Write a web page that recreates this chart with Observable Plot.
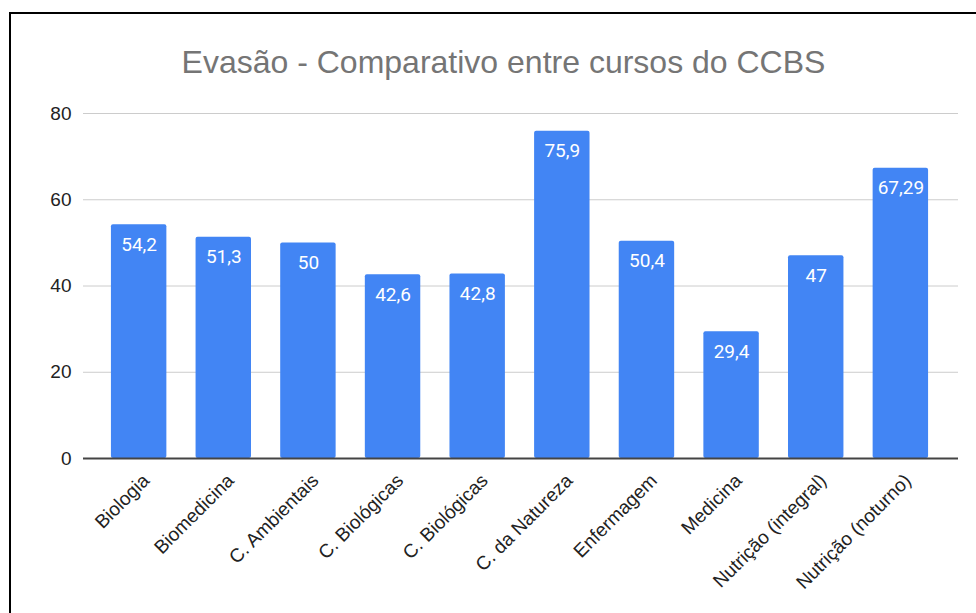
<!DOCTYPE html>
<html>
<head>
<meta charset="utf-8">
<script src="https://cdn.jsdelivr.net/npm/d3@7"></script>
<script src="https://cdn.jsdelivr.net/npm/@observablehq/plot@0.6"></script>
<style>
  html, body { margin: 0; padding: 0; width: 976px; height: 613px; overflow: hidden; background: #fff; }
  #frame { position: absolute; left: 9px; top: 12px; width: 1200px; height: 900px; border: 2px solid #000; box-sizing: border-box; }
  #title { position: absolute; left: 0; top: 46px; width: 1007px; text-align: center; font-family: "Liberation Sans", Arial, sans-serif; font-size: 32px; line-height: 32px; color: #757575; white-space: nowrap; }
  #chart { position: absolute; left: 0; top: 0; }
</style>
</head>
<body>
<div id="frame"></div>
<div id="chart"></div>
<div id="title">Evasão - Comparativo entre cursos do CCBS</div>
<script>
const categories = ["Biologia", "Biomedicina", "C. Ambientais", "C. Biológicas", "C. Biológicas", "C. da Natureza", "Enfermagem", "Medicina", "Nutrição (integral)", "Nutrição (noturno)"];
const values = [54.2, 51.3, 50, 42.6, 42.8, 75.9, 50.4, 29.4, 47, 67.29];
const yTicks = [0, 20, 40, 60, 80];

const data = categories.map((c, i) => ({i, name: c, value: values[i], label: String(values[i]).replace(".", ",")}));

const chart = Plot.plot({
  width: 976,
  height: 613,
  marginLeft: 83,
  marginRight: 18,
  marginTop: 113,
  marginBottom: 155,
  style: {background: "transparent", fontFamily: "'Liberation Sans', Arial, sans-serif"},
  x: {type: "band", domain: d3.range(categories.length), paddingInner: 0.345, paddingOuter: 0.33, insetRight: 2, round: false},
  y: {domain: [0, 80]},
  marks: [
    Plot.gridY(yTicks, {stroke: "#cccccc", strokeOpacity: 1, strokeWidth: 1}),
    Plot.barY(data, {x: "i", y: "value", fill: "#4285F4", rx: 2}),
    Plot.ruleY([0], {stroke: "#444", strokeWidth: 2}),
    Plot.text(data, {x: "i", y: "value", text: "label", fill: "#ffffff", dy: 20, fontSize: 19, fontFamily: "Roboto", textAnchor: "middle"}),
    Plot.axisY(yTicks, {tickSize: 0, tickPadding: 12, fontSize: 19, fill: "#222", label: null}),
    Plot.axisX({tickSize: 0, tickPadding: 19, tickRotate: -45, tickFormat: i => categories[i], fontSize: 19, fill: "#222", dx: 7, label: null})
  ]
});
document.getElementById("chart").appendChild(chart);
</script>
</body>
</html>
